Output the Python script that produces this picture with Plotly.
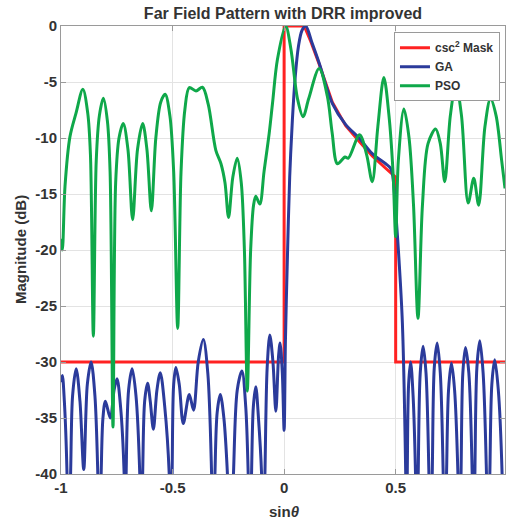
import plotly.graph_objects as go

# ---- csc^2 mask (piecewise: floor, vertical edges, csc^2 decay) ----
mask_x = [-1.0, 0.0, 0.0, 0.09, 0.12, 0.157, 0.216, 0.276, 0.336, 0.395, 0.455, 0.5, 0.5, 0.99]
mask_y = [-30.0, -30.0, 0.0, 0.0, -1.4, -3.4, -6.8, -8.9, -10.3, -11.6, -12.7, -13.5, -30.0, -30.0]

# ---- GA synthesized pattern ----
ga_x = [
    -1.000, -0.994, -0.985, -0.973, -0.968, -0.957, -0.948, -0.932, -0.915, -0.898,
    -0.882, -0.865, -0.848, -0.835, -0.828, -0.820, -0.812, -0.801, -0.779, -0.762,
    -0.749, -0.733, -0.717, -0.712, -0.708, -0.697, -0.681, -0.664, -0.647, -0.641,
    -0.634, -0.625, -0.612, -0.600, -0.586, -0.570, -0.555, -0.535, -0.515, -0.509,
    -0.502, -0.495, -0.485, -0.470, -0.452, -0.425, -0.406, -0.385, -0.362, -0.342,
    -0.325, -0.318, -0.310, -0.300, -0.286, -0.270, -0.254, -0.240, -0.227, -0.210,
    -0.189, -0.172, -0.161, -0.154, -0.146, -0.138, -0.127, -0.115, -0.101, -0.094,
    -0.086, -0.076, -0.064, -0.050, -0.037, -0.025, -0.018, -0.008, 0.000, 0.006,
    0.015, 0.025, 0.037, 0.050, 0.064, 0.080, 0.097, 0.125, 0.157, 0.216,
    0.276, 0.336, 0.395, 0.455, 0.477, 0.487, 0.500, 0.515, 0.530, 0.545,
    0.549, 0.552, 0.558, 0.567, 0.578, 0.589, 0.595, 0.601, 0.610, 0.623,
    0.636, 0.649, 0.656, 0.664, 0.673, 0.686, 0.700, 0.713, 0.720, 0.728,
    0.737, 0.750, 0.764, 0.779, 0.786, 0.793, 0.801, 0.813, 0.828, 0.843,
    0.849, 0.855, 0.864, 0.877, 0.892, 0.907, 0.914, 0.922, 0.931, 0.944,
    0.960, 0.977, 0.983, 0.990,
]
ga_y = [
    -31.8, -31.2, -33.5, -40.0, -48.0, -40.0, -33.0, -30.6, -33.5, -39.6,
    -32.0, -30.0, -33.0, -40.0, -48.0, -40.0, -35.0, -33.5, -35.0, -32.5,
    -31.5, -34.0, -40.0, -48.0, -40.0, -32.5, -30.6, -33.0, -40.0, -48.0,
    -40.0, -33.5, -31.9, -33.5, -36.0, -32.5, -30.95, -34.0, -40.0, -48.0,
    -40.0, -32.0, -30.5, -32.0, -35.5, -32.9, -34.3, -30.0, -28.0, -31.0,
    -40.0, -48.0, -40.0, -34.5, -32.9, -35.0, -40.0, -48.0, -40.0, -32.5,
    -30.8, -34.0, -40.0, -48.0, -40.0, -34.0, -32.2, -35.0, -40.0, -48.0,
    -40.0, -30.5, -27.6, -30.0, -34.4, -29.5, -28.3, -31.0, -36.1, -28.0,
    -20.5, -13.5, -8.4, -4.5, -1.85, -0.4, 0.0, -1.5, -3.3, -6.9,
    -8.8, -10.0, -11.4, -12.3, -12.7, -13.4, -16.5, -20.9, -26.5, -40.0,
    -48.0, -40.0, -32.0, -30.0, -33.0, -40.0, -48.0, -40.0, -31.0, -28.6,
    -31.0, -40.0, -48.0, -40.0, -30.5, -28.3, -31.0, -40.0, -48.0, -40.0,
    -32.5, -30.1, -32.5, -40.0, -48.0, -40.0, -31.0, -28.7, -31.0, -40.0,
    -48.0, -40.0, -30.5, -28.1, -31.0, -40.0, -48.0, -40.0, -32.0, -29.8,
    -32.5, -40.0, -48.0, -40.0,
]

# ---- PSO synthesized pattern ----
pso_x = [
    -1.000, -0.994, -0.982, -0.960, -0.933, -0.902, -0.880, -0.868, -0.855, -0.842,
    -0.828, -0.810, -0.792, -0.780, -0.767, -0.755, -0.740, -0.721, -0.700, -0.679,
    -0.657, -0.634, -0.615, -0.595, -0.575, -0.553, -0.533, -0.512, -0.495, -0.477,
    -0.462, -0.445, -0.425, -0.395, -0.366, -0.340, -0.306, -0.283, -0.265, -0.249,
    -0.230, -0.210, -0.192, -0.178, -0.165, -0.150, -0.137, -0.127, -0.109, -0.090,
    -0.067, -0.052, -0.030, 0.007, 0.030, 0.060, 0.085, 0.110, 0.157, 0.194,
    0.215, 0.239, 0.273, 0.288, 0.338, 0.370, 0.395, 0.420, 0.447, 0.470,
    0.488, 0.500, 0.512, 0.537, 0.560, 0.580, 0.600, 0.620, 0.645, 0.679,
    0.700, 0.720, 0.745, 0.770, 0.795, 0.825, 0.850, 0.872, 0.900, 0.925,
    0.950, 0.975, 0.990,
]
pso_y = [
    -19.0, -20.0, -14.3, -9.9, -7.8, -5.65, -7.8, -11.5, -27.7, -12.0,
    -8.0, -6.45, -8.5, -13.0, -35.8, -14.0, -10.0, -8.7, -11.0, -17.3,
    -11.0, -8.7, -11.0, -16.5, -10.0, -6.8, -6.1, -8.0, -13.0, -27.0,
    -13.0, -7.5, -5.5, -5.8, -5.47, -7.0, -11.1, -12.3, -14.0, -17.1,
    -13.5, -11.8, -14.0, -20.0, -32.6, -20.0, -16.0, -15.2, -15.9, -13.0,
    -9.6, -6.9, -3.0, 0.0, -2.0, -6.5, -8.1, -6.5, -3.8, -6.3,
    -9.5, -12.3, -11.7, -11.8, -9.7, -11.5, -13.9, -9.0, -4.6, -8.0,
    -13.0, -18.8, -12.0, -7.4, -10.0, -16.0, -26.1, -16.0, -10.5, -9.2,
    -10.5, -13.9, -8.0, -5.2, -8.0, -15.8, -13.6, -16.0, -9.0, -6.5,
    -8.0, -12.0, -14.5,
]

x_ticks = [-1, -0.5, 0, 0.5]
y_ticks = [-40, -35, -30, -25, -20, -15, -10, -5, 0]

FONT = "Liberation Sans, Arial, sans-serif"
TXT = "#333333"
AX = "#9a9a9a"
GRID = "#e3e3e3"

fig = go.Figure()
fig.add_trace(go.Scatter(x=mask_x, y=mask_y, mode="lines", name="csc<sup>2</sup> Mask",
                         line=dict(color="#ff2222", width=3)))
fig.add_trace(go.Scatter(x=ga_x, y=ga_y, mode="lines", name="GA",
                         line=dict(color="#2b3b9b", width=3, shape="spline", smoothing=0.9)))
fig.add_trace(go.Scatter(x=pso_x, y=pso_y, mode="lines", name="PSO",
                         line=dict(color="#0fa84a", width=3, shape="spline", smoothing=0.9)))

axis_common = dict(
    showline=True, linecolor=AX, linewidth=1, mirror="ticks",
    ticks="inside", ticklen=5, tickcolor=AX,
    showgrid=True, gridcolor=GRID, gridwidth=1, zeroline=False,
    tickfont=dict(family=FONT, size=15, color=TXT, weight="bold"),
)

fig.update_layout(
    width=506, height=523,
    margin=dict(l=61, r=1, t=26, b=49),
    paper_bgcolor="white", plot_bgcolor="white",
    title=dict(text="Far Field Pattern with DRR improved",
               font=dict(family=FONT, size=16, color=TXT, weight="bold"),
               x=0.5, xref="paper", xanchor="center",
               y=1 - 13 / 523, yref="container", yanchor="middle"),
    xaxis=dict(range=[-1, 0.99], tickvals=x_ticks,
               ticktext=[str(t) for t in x_ticks], **axis_common),
    yaxis=dict(range=[-40, 0], tickvals=y_ticks,
               ticktext=[str(t) for t in y_ticks], **axis_common),
    legend=dict(x=0.9887, xanchor="right", y=0.986, yanchor="top",
                bgcolor="white", bordercolor=AX, borderwidth=1,
                font=dict(family=FONT, size=12, color=TXT, weight="bold"),
                tracegroupgap=0, itemwidth=30),
    showlegend=True,
    annotations=[
        dict(text="Magnitude (dB)", textangle=-90, xref="paper", yref="paper",
             x=0, y=0.5, xshift=-41, xanchor="center", yanchor="middle",
             showarrow=False, font=dict(family=FONT, size=15, color=TXT, weight="bold")),
        dict(text="sin<i>θ</i>", xref="paper", yref="paper",
             x=(0 + 1) / 1.99, y=0, yshift=-37, xanchor="center", yanchor="middle",
             showarrow=False, font=dict(family=FONT, size=15, color=TXT, weight="bold")),
    ],
)

fig.write_html("out.html")
